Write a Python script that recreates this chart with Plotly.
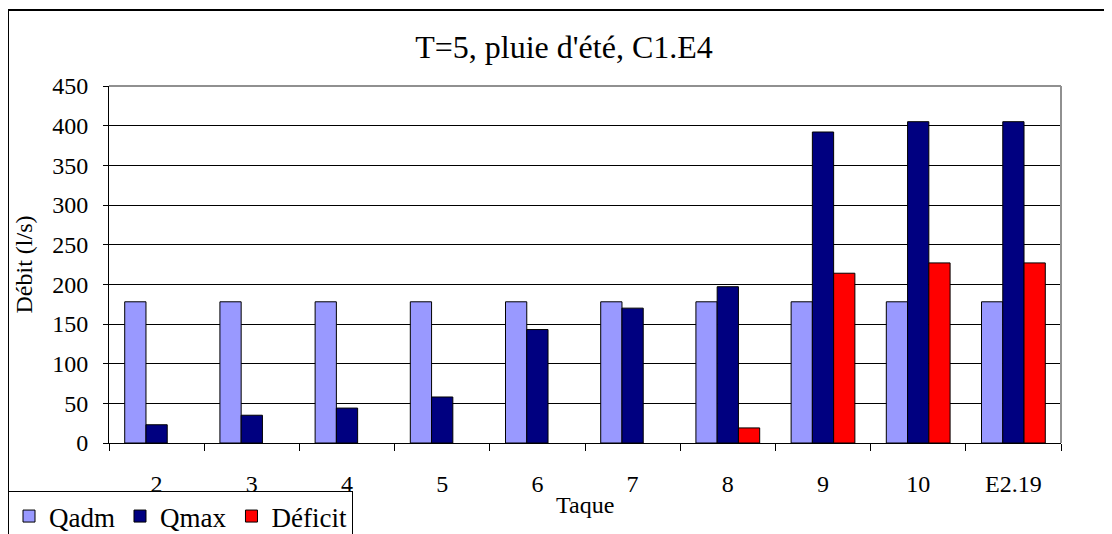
import plotly.graph_objects as go

categories = ["2", "3", "4", "5", "6", "7", "8", "9", "10", "E2.19"]
qadm = [178, 178, 178, 178, 178, 178, 178, 178, 178, 178]
qmax = [23, 35, 44, 58, 143, 170, 197, 392, 405, 405]
deficit = [None, None, None, None, None, None, 19, 214, 227, 227]

FONT = "Liberation Serif"

# page body has an 8px margin; figure coordinates are page coordinates minus 8
W, H = 1104, 526
L, T, R, B = 101, 78, 51, 91
PW = W - L - R
PH = H - T - B

fig = go.Figure()
fig.add_trace(go.Bar(name="Qadm", x=categories, y=qadm,
                     marker=dict(color="#9999FF", line=dict(color="black", width=1))))
fig.add_trace(go.Bar(name="Qmax", x=categories, y=qmax,
                     marker=dict(color="#000080", line=dict(color="black", width=1))))
fig.add_trace(go.Bar(name="Déficit", x=categories, y=deficit,
                     marker=dict(color="#FF0000", line=dict(color="black", width=1))))

fig.update_layout(
    width=W, height=H,
    margin=dict(l=L, r=R, t=T, b=B, autoexpand=False),
    paper_bgcolor="white", plot_bgcolor="white",
    font=dict(family=FONT, color="black"),
    barmode="group", bargap=0.33, bargroupgap=0,
    title=dict(text="T=5, pluie d'été, C1.E4", font=dict(family=FONT, size=32, color="black"),
               x=(564 - 8) / W, xref="container", xanchor="center",
               y=1 - (47 - 8) / H, yref="container", yanchor="middle"),
    legend=dict(orientation="h", xref="container", yref="container",
                x=0.0, xanchor="left", y=1 - (491 - 8) / H, yanchor="top",
                bordercolor="black", borderwidth=1, bgcolor="white",
                font=dict(family=FONT, size=27, color="black"), traceorder="normal"),
    showlegend=True,
)

fig.update_xaxes(
    type="category", tickson="boundaries", ticks="outside", ticklen=7,
    tickcolor="black", showline=True, linecolor="black", linewidth=1,
    showgrid=False, ticklabelstandoff=19, automargin=True,
    tickfont=dict(family=FONT, size=24, color="black"),
)
fig.update_yaxes(
    range=[0, 450], dtick=50, ticks="outside", ticklen=5, tickcolor="black",
    showline=True, linecolor="black", linewidth=1, automargin=True,
    showgrid=True, gridcolor="black", gridwidth=1, zeroline=False,
    ticklabelstandoff=10,
    tickfont=dict(family=FONT, size=24, color="black"),
    title=dict(text="Débit (l/s)", font=dict(family=FONT, size=24, color="black"), standoff=12),
)

# x axis title "Taque"
fig.add_annotation(text="Taque", xref="paper", yref="paper", x=0.5, y=-(505 - 8 - (H - B)) / PH,
                   xanchor="center", yanchor="middle", showarrow=False,
                   font=dict(family=FONT, size=24, color="black"))

# plot area border (top and right, gray)
fig.add_shape(type="line", xref="paper", yref="paper", x0=0, x1=1, y0=1, y1=1,
              line=dict(color="#909090", width=2))
fig.add_shape(type="line", xref="paper", yref="paper", x0=1, x1=1, y0=0, y1=1,
              line=dict(color="#909090", width=2))
# outer chart border (left and top)
bx = (0 - L) / PW
by_top = (PH + T - 2) / PH
by_bot = -(B + 5) / PH
fig.add_shape(type="line", xref="paper", yref="paper",
              x0=bx, x1=bx, y0=by_bot, y1=by_top, line=dict(color="black", width=2))
fig.add_shape(type="line", xref="paper", yref="paper",
              x0=bx, x1=(W - L + 5) / PW, y0=by_top, y1=by_top, line=dict(color="black", width=2))

fig.write_html("out.html")
